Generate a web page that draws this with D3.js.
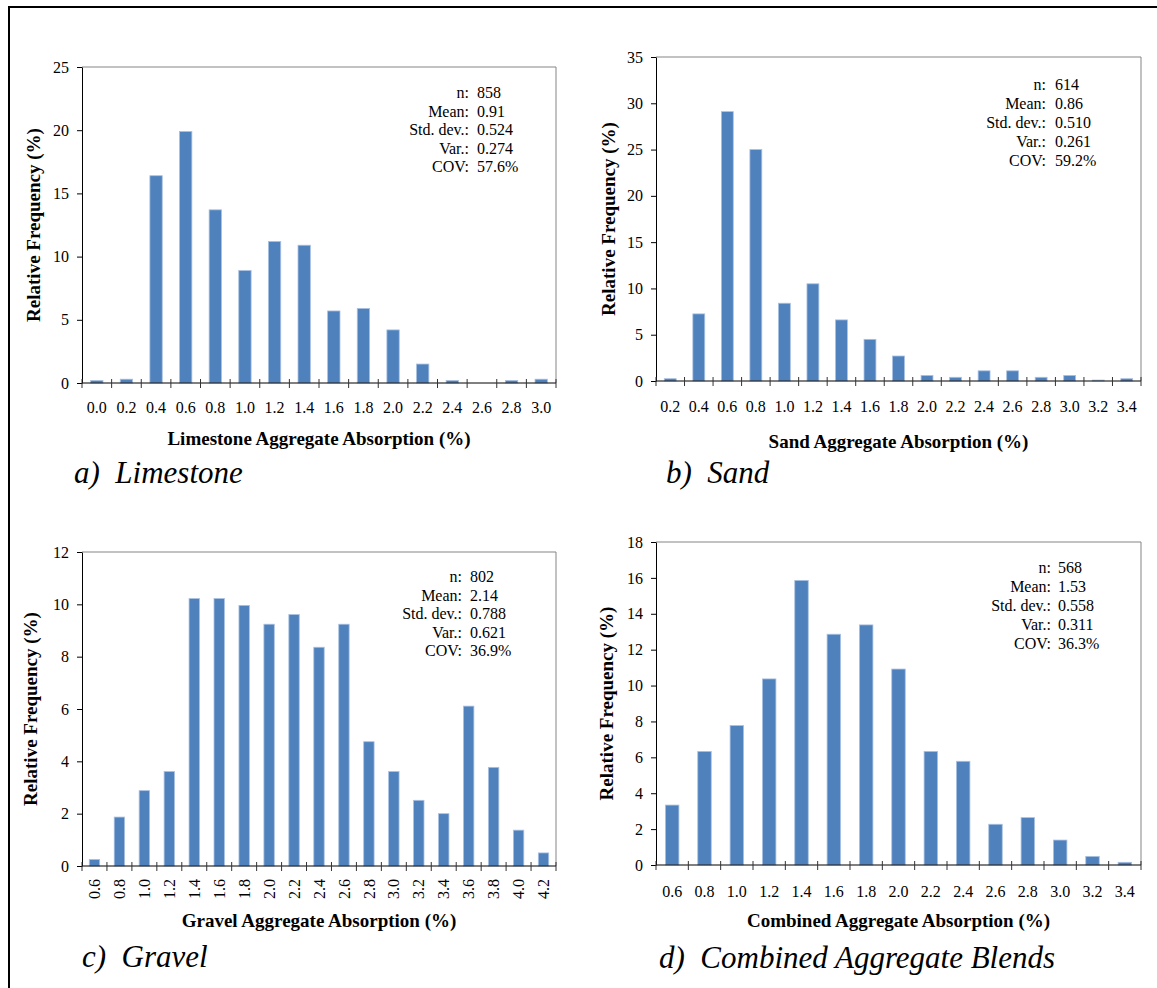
<!DOCTYPE html>
<html>
<head>
<meta charset="utf-8">
<script src="https://cdn.jsdelivr.net/npm/d3@7"></script>
<style>
  html, body { margin: 0; padding: 0; background: #fff; }
  svg { display: block; }
  svg text { font-family: "Liberation Serif", "Times New Roman", Times, serif !important; }
</style>
</head>
<body>
<svg id="fig" width="1157" height="988"></svg>
<script>
// Absorption bins (%) and relative frequency (%) for each aggregate type
const limestoneBins = ["0.0","0.2","0.4","0.6","0.8","1.0","1.2","1.4","1.6","1.8","2.0","2.2","2.4","2.6","2.8","3.0"];
const limestoneFreq = [0.2, 0.3, 16.4, 19.9, 13.7, 8.9, 11.2, 10.9, 5.7, 5.9, 4.2, 1.5, 0.2, 0, 0.2, 0.3];

const sandBins = ["0.2","0.4","0.6","0.8","1.0","1.2","1.4","1.6","1.8","2.0","2.2","2.4","2.6","2.8","3.0","3.2","3.4"];
const sandFreq = [0.25, 7.25, 29.1, 25.0, 8.4, 10.5, 6.6, 4.5, 2.7, 0.6, 0.4, 1.1, 1.1, 0.4, 0.6, 0.1, 0.25];

const gravelBins = ["0.6","0.8","1.0","1.2","1.4","1.6","1.8","2.0","2.2","2.4","2.6","2.8","3.0","3.2","3.4","3.6","3.8","4.0","4.2"];
const gravelFreq = [0.25, 1.87, 2.88, 3.61, 10.22, 10.22, 9.96, 9.24, 9.61, 8.36, 9.24, 4.75, 3.61, 2.51, 2.0, 6.11, 3.77, 1.37, 0.5];

const combinedBins = ["0.6","0.8","1.0","1.2","1.4","1.6","1.8","2.0","2.2","2.4","2.6","2.8","3.0","3.2","3.4"];
const combinedFreq = [3.34, 6.33, 7.77, 10.37, 15.86, 12.86, 13.38, 10.92, 6.33, 5.78, 2.27, 2.64, 1.39, 0.48, 0.15];

// Y-axis tick values
const limestoneTicks = [0, 5, 10, 15, 20, 25];
const sandTicks = [0, 5, 10, 15, 20, 25, 30, 35];
const gravelTicks = [0, 2, 4, 6, 8, 10, 12];
const combinedTicks = [0, 2, 4, 6, 8, 10, 12, 14, 16, 18];

// Summary statistics
const statLabels = ["n:", "Mean:", "Std. dev.:", "Var.:", "COV:"];
const limestoneStats = ["858", "0.91", "0.524", "0.274", "57.6%"];
const sandStats = ["614", "0.86", "0.510", "0.261", "59.2%"];
const gravelStats = ["802", "2.14", "0.788", "0.621", "36.9%"];
const combinedStats = ["568", "1.53", "0.558", "0.311", "36.3%"];

// Titles
const yTitle = "Relative Frequency (%)";
const xTitles = ["Limestone Aggregate Absorption (%)", "Sand Aggregate Absorption (%)",
                 "Gravel Aggregate Absorption (%)", "Combined Aggregate Absorption (%)"];
const captions = ["a)  Limestone", "b)  Sand", "c)  Gravel", "d)  Combined Aggregate Blends"];

const SERIF = "Liberation Serif, Times New Roman, Times, serif";
const svg = d3.select("#fig").attr("font-family", SERIF);

// outer frame (top and left edges)
svg.append("path")
  .attr("d", "M9,988 V7 H1157")
  .attr("fill", "none").attr("stroke", "#000").attr("stroke-width", 2);

const BAR = "#4F81BD";

function panel(cfg) {
  const { bins, freq, ticks, stats, box, yTitleX, rotateLabels, xLabelY, xTitleY,
          xTitle, caption, capX, capY, colonX, valueX, statY, statDy } = cfg;
  const g = svg.append("g").attr("font-family", SERIF);

  const x = d3.scaleBand().domain(bins).range([box.x0, box.x1])
    .paddingInner(0.583).paddingOuter(0.2915);
  const y = d3.scaleLinear().domain([0, d3.max(ticks)]).range([box.y1, box.y0]);

  // frame top / right
  g.append("path")
    .attr("d", `M${box.x0},${box.y0} H${box.x1} V${box.y1}`)
    .attr("fill", "none").attr("stroke", "#858585").attr("stroke-width", 1);

  // bars
  g.selectAll("rect.bar").data(bins).join("rect")
    .attr("class", "bar")
    .attr("x", d => x(d))
    .attr("width", x.bandwidth())
    .attr("y", (d, i) => y(freq[i]))
    .attr("height", (d, i) => y(0) - y(freq[i]))
    .attr("fill", BAR)
    .attr("stroke", "#a9c1e2").attr("stroke-width", 0.8)
    .attr("display", (d, i) => freq[i] > 0 ? null : "none");

  // y axis
  const ya = g.append("g").attr("transform", `translate(${box.x0},0)`)
    .call(d3.axisLeft(y).tickValues(ticks).tickSize(5).tickSizeOuter(0).tickPadding(8));
  ya.attr("font-family", SERIF).attr("font-size", 16);
  ya.select(".domain").attr("stroke", "#000");
  ya.selectAll(".tick line").attr("stroke", "#000");
  ya.selectAll(".tick text").attr("fill", "#000");

  // x axis line with cross ticks at bin boundaries
  g.append("line").attr("x1", box.x0).attr("x2", box.x1)
    .attr("y1", box.y1).attr("y2", box.y1).attr("stroke", "#000");
  const start = x.range()[0];
  const bounds = d3.range(bins.length + 1).map(i => start + i * x.step());
  g.selectAll("line.xt").data(bounds).join("line")
    .attr("class", "xt")
    .attr("x1", d => d).attr("x2", d => d)
    .attr("y1", box.y1 - 4).attr("y2", box.y1 + 5)
    .attr("stroke", "#333");

  // x tick labels
  const lbl = g.selectAll("text.xl").data(bins).join("text")
    .attr("class", "xl").attr("font-size", 16).attr("fill", "#000")
    .text(d => d);
  if (rotateLabels) {
    lbl.attr("text-anchor", "end").attr("dy", "0.35em")
      .attr("transform", d => `translate(${x(d) + x.bandwidth() / 2},${xLabelY}) rotate(-90)`);
  } else {
    lbl.attr("text-anchor", "middle")
      .attr("x", d => x(d) + x.bandwidth() / 2).attr("y", xLabelY);
  }

  // axis titles
  g.append("text")
    .attr("transform", `translate(${yTitleX},${(box.y0 + box.y1) / 2}) rotate(-90)`)
    .attr("text-anchor", "middle").attr("dy", "0.35em")
    .attr("font-size", 19).attr("font-weight", "bold").text(yTitle);
  g.append("text")
    .attr("x", (box.x0 + box.x1) / 2).attr("y", xTitleY)
    .attr("text-anchor", "middle").attr("font-size", 19).attr("font-weight", "bold")
    .text(xTitle);

  // caption
  g.append("text").attr("x", capX).attr("y", capY)
    .attr("font-size", 31).attr("font-style", "italic")
    .style("white-space", "pre").text(caption);

  // statistics block
  statLabels.forEach((s, i) => {
    g.append("text").attr("x", colonX).attr("y", statY + i * statDy)
      .attr("text-anchor", "end").attr("font-size", 16).text(s);
    g.append("text").attr("x", valueX).attr("y", statY + i * statDy)
      .attr("text-anchor", "start").attr("font-size", 16).text(stats[i]);
  });
}

panel({ bins: limestoneBins, freq: limestoneFreq, ticks: limestoneTicks, stats: limestoneStats,
  box: { x0: 82, x1: 556, y0: 67, y1: 383 }, yTitleX: 33, rotateLabels: false,
  xLabelY: 413, xTitleY: 445, xTitle: xTitles[0], caption: captions[0], capX: 74, capY: 483,
  colonX: 469, valueX: 477, statY: 98, statDy: 18.5 });

panel({ bins: sandBins, freq: sandFreq, ticks: sandTicks, stats: sandStats,
  box: { x0: 656, x1: 1141, y0: 57, y1: 381 }, yTitleX: 608, rotateLabels: false,
  xLabelY: 412, xTitleY: 448, xTitle: xTitles[1], caption: captions[1], capX: 666, capY: 483,
  colonX: 1046, valueX: 1055, statY: 89.5, statDy: 19 });

panel({ bins: gravelBins, freq: gravelFreq, ticks: gravelTicks, stats: gravelStats,
  box: { x0: 82, x1: 556, y0: 552, y1: 866 }, yTitleX: 30, rotateLabels: true,
  xLabelY: 879, xTitleY: 927, xTitle: xTitles[2], caption: captions[2], capX: 82, capY: 967,
  colonX: 462, valueX: 470, statY: 582, statDy: 18.5 });

panel({ bins: combinedBins, freq: combinedFreq, ticks: combinedTicks, stats: combinedStats,
  box: { x0: 656, x1: 1141, y0: 542, y1: 865 }, yTitleX: 606, rotateLabels: false,
  xLabelY: 897, xTitleY: 927, xTitle: xTitles[3], caption: captions[3], capX: 659, capY: 968,
  colonX: 1051, valueX: 1058, statY: 573, statDy: 19 });
</script>
</body>
</html>
